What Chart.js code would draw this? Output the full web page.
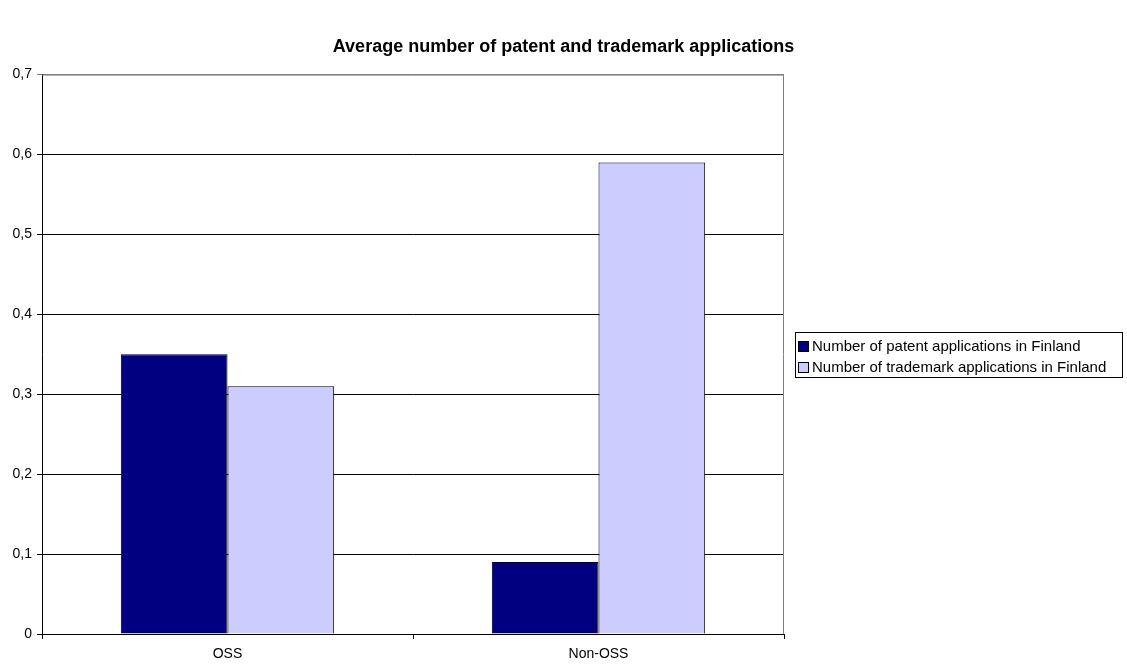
<!DOCTYPE html>
<html>
<head>
<meta charset="utf-8">
<script src="https://cdn.jsdelivr.net/npm/chart.js@4/dist/chart.umd.min.js"></script>
<style>
  body { margin: 0; background: #fff; font-family: "Liberation Sans", Arial, sans-serif; }
  #wrap { position: relative; width: 1127px; height: 664px; }
  #legend { position: absolute; left: 795px; top: 332px; width: 328px; height: 46px;
            border: 1px solid #000; box-sizing: border-box; font-size: 15px; color: #000; padding: 2px 0 0 2px; }
  #legend div { height: 21px; line-height: 21px; white-space: nowrap; }
  #legend span { display: inline-block; width: 9px; height: 9px; border: 1px solid #000; margin-right: 3px; vertical-align: -1px; }
</style>
</head>
<body>
<div id="wrap">
  <canvas id="myChart" width="1127" height="664"></canvas>
  <div id="legend"></div>
</div>
<script>
const categories = ['OSS', 'Non-OSS'];
const patentApps = [0.35, 0.09];
const trademarkApps = [0.31, 0.59];
const seriesNames = ['Number of patent applications in Finland', 'Number of trademark applications in Finland'];
const seriesColors = ['#000080', '#ccccff'];
const yTicks = [0, 0.1, 0.2, 0.3, 0.4, 0.5, 0.6, 0.7];

// grey frame on top and right of plot area
const frame = {
  id: 'frame',
  afterDraw(chart) {
    const a = chart.chartArea, c = chart.ctx;
    c.save();
    c.strokeStyle = '#808080';
    c.lineWidth = 1;
    c.beginPath();
    c.moveTo(a.left, a.top + 0.5);
    c.lineTo(a.right - 0.5, a.top + 0.5);
    c.lineTo(a.right - 0.5, a.bottom);
    c.stroke();
    c.restore();
  }
};

Chart.defaults.font.family = '"Liberation Sans", Arial, sans-serif';
Chart.defaults.color = '#000';

const ctx = document.getElementById('myChart').getContext('2d');
const myChart = new Chart(ctx, {
  type: 'bar',
  data: {
    labels: categories,
    datasets: [{
      label: seriesNames[0],
      data: patentApps,
      backgroundColor: seriesColors[0],
      borderColor: '#000',
      borderWidth: 1
    }, {
      label: seriesNames[1],
      data: trademarkApps,
      backgroundColor: seriesColors[1],
      borderColor: '#000',
      borderWidth: 1
    }]
  },
  options: {
    responsive: false,
    animation: false,
    layout: { padding: 0 },
    datasets: { bar: { categoryPercentage: 0.575, barPercentage: 1 } },
    plugins: {
      legend: { display: false },
      tooltip: { enabled: false },
      title: {
        display: true,
        text: 'Average number of patent and trademark applications',
        font: { size: 18, weight: 'bold' },
        padding: { top: 36, bottom: 17 }
      }
    },
    scales: {
      x: {
        grid: { display: true, offset: true, drawOnChartArea: false, color: '#000', tickLength: 5 },
        border: { color: '#000' },
        ticks: { font: { size: 14 }, padding: 7 },
        afterFit(s) { s.height = 30; }
      },
      y: {
        min: 0,
        max: 0.7,
        afterBuildTicks(s) { s.ticks = yTicks.map(v => ({ value: v })); },
        grid: {
          color: c => c.tick && c.tick.value >= 0.7 ? '#808080' : '#000',
          tickLength: 5
        },
        border: { color: '#000' },
        ticks: {
          font: { size: 14 },
          padding: 5,
          callback: v => v === 0 ? '0' : v.toFixed(1).replace('.', ',')
        },
        afterFit(s) { s.width = 42; }
      },
      // empty right box keeps room for the legend
      spacer: {
        position: 'right',
        display: true,
        grid: { display: false },
        ticks: { display: false },
        border: { display: false },
        afterFit(s) { s.width = 343; }
      }
    }
  },
  plugins: [frame]
});

const legend = document.getElementById('legend');
seriesNames.forEach((name, i) => {
  const row = document.createElement('div');
  const sw = document.createElement('span');
  sw.style.background = seriesColors[i];
  row.appendChild(sw);
  row.appendChild(document.createTextNode(name));
  legend.appendChild(row);
});
</script>
</body>
</html>
